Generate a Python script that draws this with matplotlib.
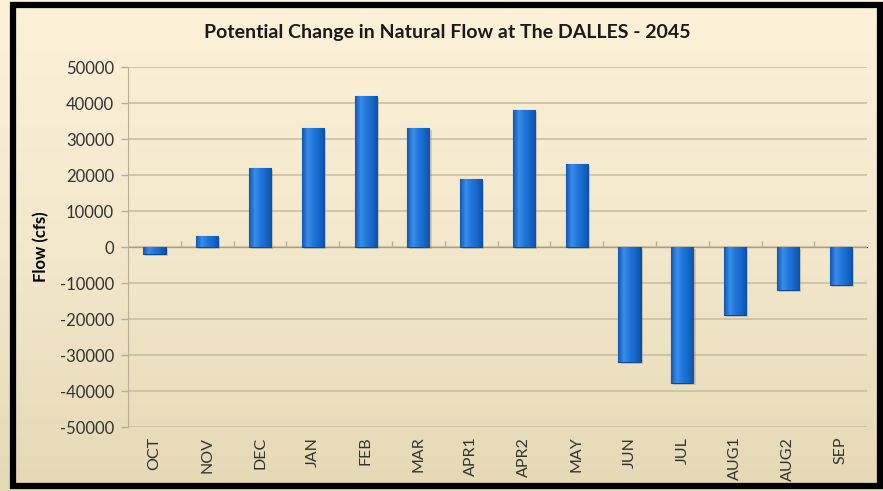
#!/usr/bin/env python3

import numpy as np
import matplotlib
matplotlib.use('Agg')
import matplotlib.pyplot as plt
from matplotlib.colors import LinearSegmentedColormap
from matplotlib.patches import Rectangle

periods = ['OCT', 'NOV', 'DEC', 'JAN', 'FEB', 'MAR', 'APR1', 'APR2',
           'MAY', 'JUN', 'JUL', 'AUG1', 'AUG2', 'SEP']
flow_change = [-1800, 3000, 22000, 33000, 42000, 33000, 19000, 38000,
               23000, -32000, -37800, -18900, -12000, -10500]
y_ticks = list(range(-50000, 50001, 10000))

plt.rcParams['font.family'] = ['Lato', 'DejaVu Sans']

fig = plt.figure(figsize=(8.83, 4.91), dpi=100)

# cream background gradient behind everything
bg = fig.add_axes([0, 0, 1, 1], zorder=0)
bg_cmap = LinearSegmentedColormap.from_list('bg', ['#fdf1d8', '#f3e8cc', '#e5d9b5'])
bg.imshow(np.linspace(0, 1, 256).reshape(-1, 1), aspect='auto', cmap=bg_cmap,
          extent=[0, 1, 0, 1])
bg.set_xlim(0, 1)
bg.set_ylim(0, 1)
bg.axis('off')

ax = fig.add_axes([0.145, 0.1303, 0.837, 0.7332], zorder=1)
ax.set_facecolor('none')

x = np.arange(len(periods))
bars = ax.bar(x, flow_change, width=0.42, color='#1a6dd0',
              edgecolor='#0d4a96', linewidth=0.8, zorder=3)

# shading across each bar plus a soft drop shadow
bar_cmap = LinearSegmentedColormap.from_list(
    'bar', ['#1058b4', '#3a8eea', '#2075da', '#1767c8', '#0d52aa'])
grad = np.linspace(0, 1, 64).reshape(1, -1)
for b in bars:
    x0, w = b.get_x(), b.get_width()
    y0, h = b.get_y(), b.get_height()
    shadow = Rectangle((x0 + 0.04, y0 - 600), w, h, facecolor='#8a7a5a',
                       alpha=0.3, edgecolor='none', zorder=2)
    ax.add_patch(shadow)
    im = ax.imshow(grad, aspect='auto', cmap=bar_cmap,
                   extent=[x0, x0 + w, min(y0, y0 + h), max(y0, y0 + h)],
                   zorder=3.5)
    im.set_clip_path(b)

ax.set_xlim(-0.5, len(periods) - 0.5)
ax.set_ylim(-50000, 50000)
ax.set_yticks(y_ticks)
ax.set_yticklabels([str(v) for v in y_ticks], fontsize=12, color='#333333')
ax.set_xticks(x)
ax.set_xticklabels(periods, rotation=90, fontsize=11.5, color='#333333')
ax.tick_params(axis='x', length=0, pad=7)
ax.tick_params(axis='y', length=5, color='#b8ae94', width=1, pad=5)
ax.grid(axis='y', color='#c9bfa2', linewidth=1.2, zorder=0)
for side in ['top', 'right', 'bottom']:
    ax.spines[side].set_visible(False)
ax.spines['left'].set_color('#b8ae94')

# category axis crossing at zero, ticks between categories
zero_axis = ax.secondary_xaxis(0.5)
zero_axis.set_xticks(np.arange(len(periods) - 1) + 0.5)
zero_axis.set_xticklabels([])
zero_axis.tick_params(length=4, color='#b8ae94', width=1)
zero_axis.spines['bottom'].set_color('#b8ae94')

ax.set_ylabel('Flow (cfs)', fontsize=12, fontweight='bold')
ax.yaxis.set_label_coords(-0.107, 0.5)

fig.text(0.507, 0.933, 'Potential Change in Natural Flow at The DALLES - 2045',
         ha='center', va='center', fontsize=14, fontweight='bold',
         color='#1a1a1a')

# heavy black frame around the chart
frame = Rectangle((13 / 883, 5 / 491), 867 / 883, 481 / 491,
                  transform=fig.transFigure, fill=False, edgecolor='black',
                  linewidth=4.5, zorder=10)
fig.patches.append(frame)

fig.savefig('out.png', dpi=100)
